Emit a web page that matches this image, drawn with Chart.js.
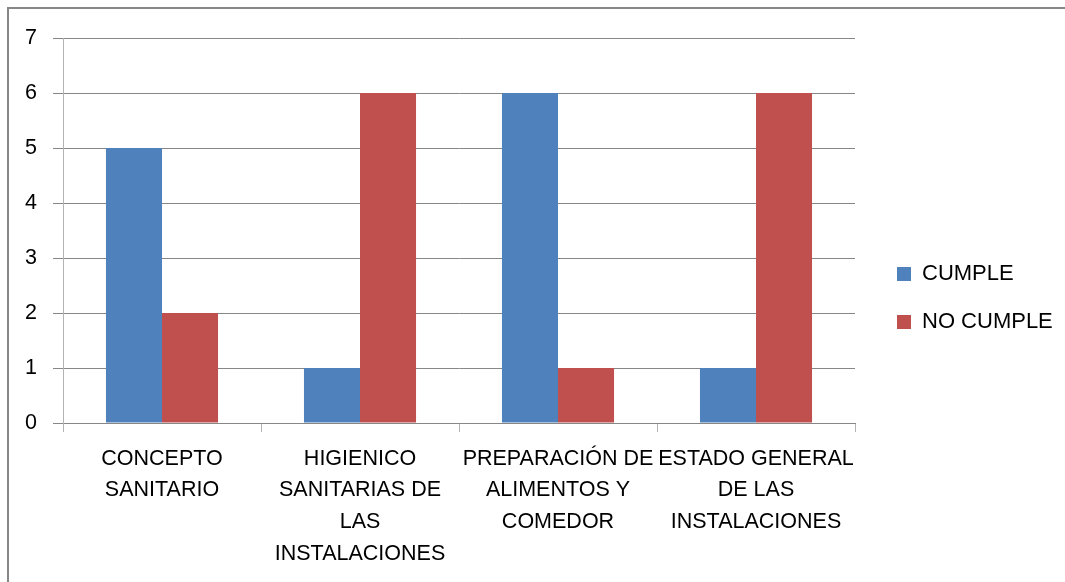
<!DOCTYPE html>
<html>
<head>
<meta charset="utf-8">
<script src="https://cdn.jsdelivr.net/npm/chart.js@4.4.1/dist/chart.umd.min.js"></script>
<style>
  html, body { margin: 0; padding: 0; background: #fff; overflow: hidden; }
  #frame {
    position: absolute; left: 7px; top: 7px; width: 1100px; height: 620px;
    border-left: 2px solid #878787; border-top: 2px solid #878787;
  }
  #wrap { position: absolute; left: 0; top: 0; width: 1065px; height: 582px; }
</style>
</head>
<body>
<div id="frame"></div>
<div id="wrap"><canvas id="chart" width="1065" height="582"></canvas></div>
<script>
// datos del gráfico
var categories = [
  ['CONCEPTO', 'SANITARIO'],
  ['HIGIENICO', 'SANITARIAS DE', 'LAS', 'INSTALACIONES'],
  ['PREPARACIÓN DE', 'ALIMENTOS Y', 'COMEDOR'],
  ['ESTADO GENERAL', 'DE LAS', 'INSTALACIONES']
];
var seriesNames = ['CUMPLE', 'NO CUMPLE'];
var cumple = [5, 1, 6, 1];
var noCumple = [2, 6, 1, 6];
var yTicks = [0, 1, 2, 3, 4, 5, 6, 7];

var FONT = 'Liberation Sans';
var GRID = '#878787';
var AXIS = '#B3B3B3';

// fija el ancho de la leyenda y la coloca como en Excel
var legendPlacer = {
  id: 'legendPlacer',
  beforeLayout: function (chart) {
    var lg = chart.legend;
    if (lg && !lg._fixed) {
      var fit = lg.fit;
      lg.fit = function () { fit.call(this); this.width = 210; };
      lg._fixed = true;
    }
  },
  afterLayout: function (chart) {
    var lg = chart.legend;
    var pad = lg.options.labels.padding;
    var h = lg.height;
    lg.left = 897 - pad;
    lg.right = lg.left + 210;
    lg.top = 263 - pad;
    lg.bottom = lg.top + h;
  }
};

var ctx = document.getElementById('chart');
var chart = new Chart(ctx, {
  type: 'bar',
  data: {
    labels: categories,
    datasets: [{
      label: seriesNames[0],
      data: cumple,
      backgroundColor: '#4F81BD',
      borderWidth: 0
    }, {
      label: seriesNames[1],
      data: noCumple,
      backgroundColor: '#C0504D',
      borderWidth: 0
    }]
  },
  options: {
    responsive: false,
    animation: false,
    datasets: {
      bar: { categoryPercentage: 0.566, barPercentage: 1 }
    },
    layout: { padding: { top: 38, left: 0, right: 0, bottom: 0 } },
    plugins: {
      tooltip: { enabled: false },
      legend: {
        position: 'right',
        align: 'start',
        labels: {
          boxWidth: 14,
          boxHeight: 14,
          padding: 26,
          color: '#000',
          font: { family: FONT, size: 22 }
        }
      }
    },
    scales: {
      x: {
        afterFit: function (scale) { scale.height = 159; },
        grid: {
          drawOnChartArea: false,
          drawTicks: true,
          tickLength: 9,
          color: AXIS,
          offset: true
        },
        border: { color: GRID, width: 1 },
        ticks: {
          autoSkip: false,
          maxRotation: 0,
          minRotation: 0,
          padding: 11,
          color: '#000',
          font: { family: FONT, size: 21.5, lineHeight: 1.47 }
        }
      },
      y: {
        min: yTicks[0],
        max: yTicks[yTicks.length - 1],
        afterFit: function (scale) { scale.width = 63; },
        afterBuildTicks: function (scale) {
          scale.ticks = yTicks.map(function (v) { return { value: v }; });
        },
        grid: { color: GRID, tickLength: 10 },
        border: { color: AXIS, width: 1 },
        ticks: {
          padding: 16,
          color: '#000',
          font: { family: FONT, size: 21.5 }
        }
      }
    }
  },
  plugins: [legendPlacer]
});
</script>
</body>
</html>
